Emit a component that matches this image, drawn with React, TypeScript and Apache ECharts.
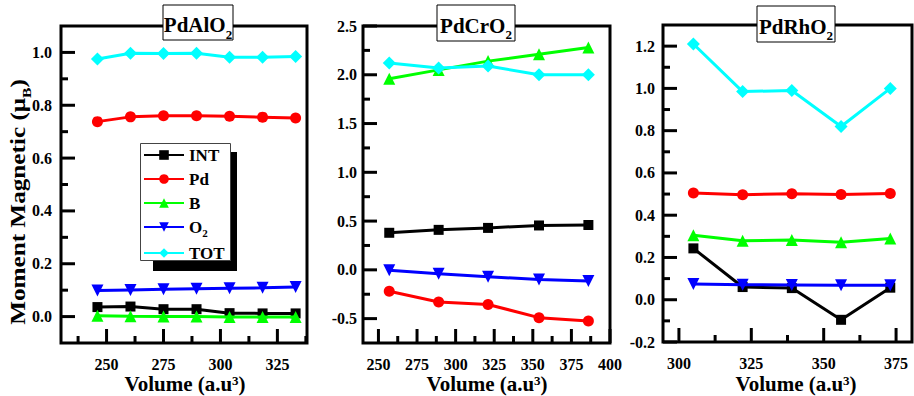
import React, { useEffect, useRef } from 'react';
import * as echarts from 'echarts';

const FONT = '"Liberation Serif", "Times New Roman", Times, serif';

const seriesNames = ['INT', 'Pd', 'B', 'O2', 'TOT'];
const seriesColors = ['#000000', '#ff0000', '#00ff00', '#0000ff', '#00ffff'];
const seriesSymbols = ['rect', 'circle', 'triangle', 'triangle', 'diamond'];
const seriesRotates = [0, 0, 0, 180, 0];
const seriesSizes = [10, 11, 12, 12, 13];

// Panel 1: PdAlO2
const p1Volume = [246, 260.5, 275, 289.5, 304, 318.5, 333];
const p1INT = [0.036, 0.038, 0.028, 0.028, 0.013, 0.012, 0.012];
const p1Pd = [0.738, 0.756, 0.76, 0.76, 0.758, 0.755, 0.752];
const p1B = [0.003, 0.001, 0.0, 0.0, -0.002, -0.002, -0.002];
const p1O2 = [0.099, 0.101, 0.103, 0.105, 0.107, 0.109, 0.112];
const p1TOT = [0.975, 0.997, 0.996, 0.997, 0.982, 0.982, 0.985];
const p1XMajor = [250, 275, 300, 325];
const p1XMinor = [237.5, 262.5, 287.5, 312.5, 337.5];
const p1YMajor = [0, 0.2, 0.4, 0.6, 0.8, 1.0];
const p1YMinor = [0.1, 0.3, 0.5, 0.7, 0.9];

// Panel 2: PdCrO2
const p2Volume = [257, 289, 321, 354, 386];
const p2INT = [0.38, 0.41, 0.43, 0.455, 0.46];
const p2Pd = [-0.22, -0.33, -0.355, -0.49, -0.525];
const p2B = [1.96, 2.05, 2.14, 2.21, 2.28];
const p2O2 = [-0.005, -0.04, -0.07, -0.1, -0.115];
const p2TOT = [2.12, 2.07, 2.09, 2.0, 2.0];
const p2XMajor = [250, 275, 300, 325, 350, 375, 400];
const p2XMinor = [262.5, 287.5, 312.5, 337.5, 362.5, 387.5];
const p2YMajor = [-0.5, 0, 0.5, 1.0, 1.5, 2.0, 2.5];
const p2YMinor = [-0.25, 0.25, 0.75, 1.25, 1.75, 2.25];

// Panel 3: PdRhO2
const p3Volume = [305, 322, 339, 356, 373];
const p3INT = [0.243, 0.06, 0.055, -0.095, 0.057];
const p3Pd = [0.505, 0.497, 0.502, 0.498, 0.503];
const p3B = [0.305, 0.279, 0.283, 0.272, 0.29];
const p3O2 = [0.075, 0.071, 0.07, 0.069, 0.069];
const p3TOT = [1.21, 0.985, 0.99, 0.82, 1.0];
const p3XMajor = [300, 325, 350, 375];
const p3XMinor = [312.5, 337.5, 362.5];
const p3YMajor = [-0.2, 0, 0.2, 0.4, 0.6, 0.8, 1.0, 1.2];
const p3YMinor = [-0.1, 0.1, 0.3, 0.5, 0.7, 0.9, 1.1];

const panelTitles = ['PdAlO', 'PdCrO', 'PdRhO'];

const panels = [
  {
    volume: p1Volume, values: [p1INT, p1Pd, p1B, p1O2, p1TOT],
    grid: { left: 61, top: 26, width: 246, height: 317 },
    xMin: 230, xMax: 338, xMajor: p1XMajor, xMinor: p1XMinor,
    yMin: -0.1, yMax: 1.1, yMajor: p1YMajor, yMinor: p1YMinor, yMargin: 9,
    titleBox: { x: 163, y: 5, w: 70, h: 35 }, xTitleX: 185,
  },
  {
    volume: p2Volume, values: [p2INT, p2Pd, p2B, p2O2, p2TOT],
    grid: { left: 363, top: 26, width: 247, height: 317 },
    xMin: 240, xMax: 400, xMajor: p2XMajor, xMinor: p2XMinor,
    yMin: -0.75, yMax: 2.5, yMajor: p2YMajor, yMinor: p2YMinor, yMargin: 6,
    titleBox: { x: 437, y: 5, w: 78, h: 36 }, xTitleX: 487,
  },
  {
    volume: p3Volume, values: [p3INT, p3Pd, p3B, p3O2, p3TOT],
    grid: { left: 663, top: 25, width: 249, height: 317 },
    xMin: 294.5, xMax: 380.5, xMajor: p3XMajor, xMinor: p3XMinor,
    yMin: -0.2, yMax: 1.3, yMajor: p3YMajor, yMinor: p3YMinor, yMargin: 8,
    titleBox: { x: 757, y: 6, w: 78, h: 36 }, xTitleX: 796,
  },
];

const MAJOR_LEN = 14;
const MINOR_LEN = 7;
const TICK_W = 3;

const boldText = (size: number) => ({ fontFamily: FONT, fontWeight: 'bold', fontSize: size, color: '#000' });

function buildGraphic() {
  const graphic: any[] = [];
  panels.forEach((p, i) => {
    // inward axis ticks (decoration), placed on the same linear mapping as the grid's axes
    const g = p.grid;
    const px = (v: number) => g.left + ((v - p.xMin) / (p.xMax - p.xMin)) * g.width;
    const py = (v: number) => g.top + g.height - ((v - p.yMin) / (p.yMax - p.yMin)) * g.height;
    const xTick = (v: number, len: number) => graphic.push({
      type: 'rect', z: 8, silent: true,
      shape: { x: px(v) - TICK_W / 2, y: g.top + g.height - len, width: TICK_W, height: len },
      style: { fill: '#000' },
    });
    const yTick = (v: number, len: number) => graphic.push({
      type: 'rect', z: 8, silent: true,
      shape: { x: g.left, y: py(v) - TICK_W / 2, width: len, height: TICK_W },
      style: { fill: '#000' },
    });
    p.xMajor.forEach((v) => xTick(v, MAJOR_LEN));
    p.xMinor.forEach((v) => xTick(v, MINOR_LEN));
    p.yMajor.forEach((v) => yTick(v, MAJOR_LEN));
    p.yMinor.forEach((v) => yTick(v, MINOR_LEN));

    const tb = p.titleBox;
    graphic.push({
      type: 'rect', z: 20, shape: { x: tb.x, y: tb.y, width: tb.w, height: tb.h },
      style: { fill: '#fff', stroke: '#000', lineWidth: 1 },
    });
    graphic.push({
      type: 'text', z: 21, x: tb.x + tb.w / 2, y: tb.y + tb.h / 2 + 1,
      style: {
        text: '{b|' + panelTitles[i] + '}{s|2}', align: 'center', verticalAlign: 'middle',
        rich: {
          b: { fontFamily: FONT, fontWeight: 'bold', fontSize: 21, fill: '#000', lineHeight: 24, verticalAlign: 'bottom' },
          s: { fontFamily: FONT, fontWeight: 'bold', fontSize: 13, fill: '#000', lineHeight: 14, verticalAlign: 'bottom', padding: [0, 0, -5, 0] },
        },
      },
    });
    graphic.push({
      type: 'text', z: 21, x: p.xTitleX, y: 384,
      style: {
        text: '{a|Volume (a.u}{p|3}{a|)}', align: 'center', verticalAlign: 'middle',
        rich: {
          a: { fontFamily: FONT, fontWeight: 'bold', fontSize: 21, fill: '#000', lineHeight: 20, verticalAlign: 'bottom' },
          p: { fontFamily: FONT, fontWeight: 'bold', fontSize: 13, fill: '#000', lineHeight: 12, verticalAlign: 'top' },
        },
      },
    });
  });

  // legend shadow and box
  graphic.push({ type: 'rect', z: 1, shape: { x: 153, y: 152, width: 84, height: 119 }, style: { fill: '#000' } });
  graphic.push({ type: 'rect', z: 2, shape: { x: 140.5, y: 143.5, width: 90, height: 117 }, style: { fill: '#fff', stroke: '#444', lineWidth: 1 } });

  // y axis title
  graphic.push({
    type: 'text', z: 21, x: 16, y: 202, rotation: Math.PI / 2, scaleX: 1.2,
    style: {
      text: '{a|Moment Magnetic (μ}{s|B}{a|)}', align: 'center', verticalAlign: 'middle',
      rich: {
        a: { fontFamily: FONT, fontWeight: 'bold', fontSize: 21, fill: '#000', lineHeight: 24, verticalAlign: 'bottom' },
        s: { fontFamily: FONT, fontWeight: 'bold', fontSize: 13, fill: '#000', lineHeight: 14, verticalAlign: 'bottom', padding: [0, 0, -5, 0] },
      },
    },
  });
  return graphic;
}

function buildOption() {
  const grid: any[] = [];
  const xAxis: any[] = [];
  const yAxis: any[] = [];
  const series: any[] = [];

  panels.forEach((p, i) => {
    grid.push({ ...p.grid, show: true, borderColor: '#000', borderWidth: 3, backgroundColor: 'transparent' });
    const common = {
      type: 'value', gridIndex: i, splitLine: { show: false },
      axisLine: { show: false, onZero: false },
      axisTick: { show: false },
    };
    xAxis.push({
      ...common, position: 'bottom', min: p.xMin, max: p.xMax,
      axisLabel: { customValues: p.xMajor, margin: 13, ...boldText(16), formatter: (v: number) => String(v) },
    });
    yAxis.push({
      ...common, position: 'left', min: p.yMin, max: p.yMax,
      axisLabel: { customValues: p.yMajor, margin: p.yMargin, ...boldText(16), formatter: (v: number) => v.toFixed(1) },
    });
    seriesNames.forEach((name, k) => {
      series.push({
        type: 'line', name, xAxisIndex: i, yAxisIndex: i,
        data: p.volume.map((v, j) => [v, p.values[k][j]]),
        symbol: seriesSymbols[k], symbolSize: seriesSizes[k], symbolRotate: seriesRotates[k],
        showAllSymbol: true,
        itemStyle: { color: seriesColors[k] },
        lineStyle: { color: seriesColors[k], width: 3 },
        z: 2 + k, clip: false,
      });
    });
  });

  return {
    animation: false,
    backgroundColor: '#fff',
    grid, xAxis, yAxis, series, graphic: buildGraphic(),
    legend: {
      data: seriesNames, orient: 'vertical', left: 140, top: 143,
      itemWidth: 40, itemHeight: 12, itemGap: 7, padding: [4, 4, 4, 3],
      backgroundColor: 'transparent', borderWidth: 0, z: 10,
      selectedMode: false,
      formatter: (n: string) => (n === 'O2' ? '{b|O}{s|2}' : '{b|' + n + '}'),
      textStyle: {
        rich: {
          b: { fontFamily: FONT, fontWeight: 'bold', fontSize: 17, color: '#000', lineHeight: 16, verticalAlign: 'top' },
          s: { fontFamily: FONT, fontWeight: 'bold', fontSize: 11, color: '#000', lineHeight: 8, verticalAlign: 'top', padding: [8, 0, 0, 0] },
        },
      },
    },
  };
}

export default function App() {
  const ref = useRef<HTMLDivElement>(null);
  useEffect(() => {
    if (!ref.current) return;
    const chart = echarts.init(ref.current, undefined, { renderer: 'svg' });
    chart.setOption(buildOption() as any);
    return () => chart.dispose();
  }, []);
  return <div ref={ref} style={{ position: 'fixed', left: 0, top: 0, width: 914, height: 396 }} />;
}
